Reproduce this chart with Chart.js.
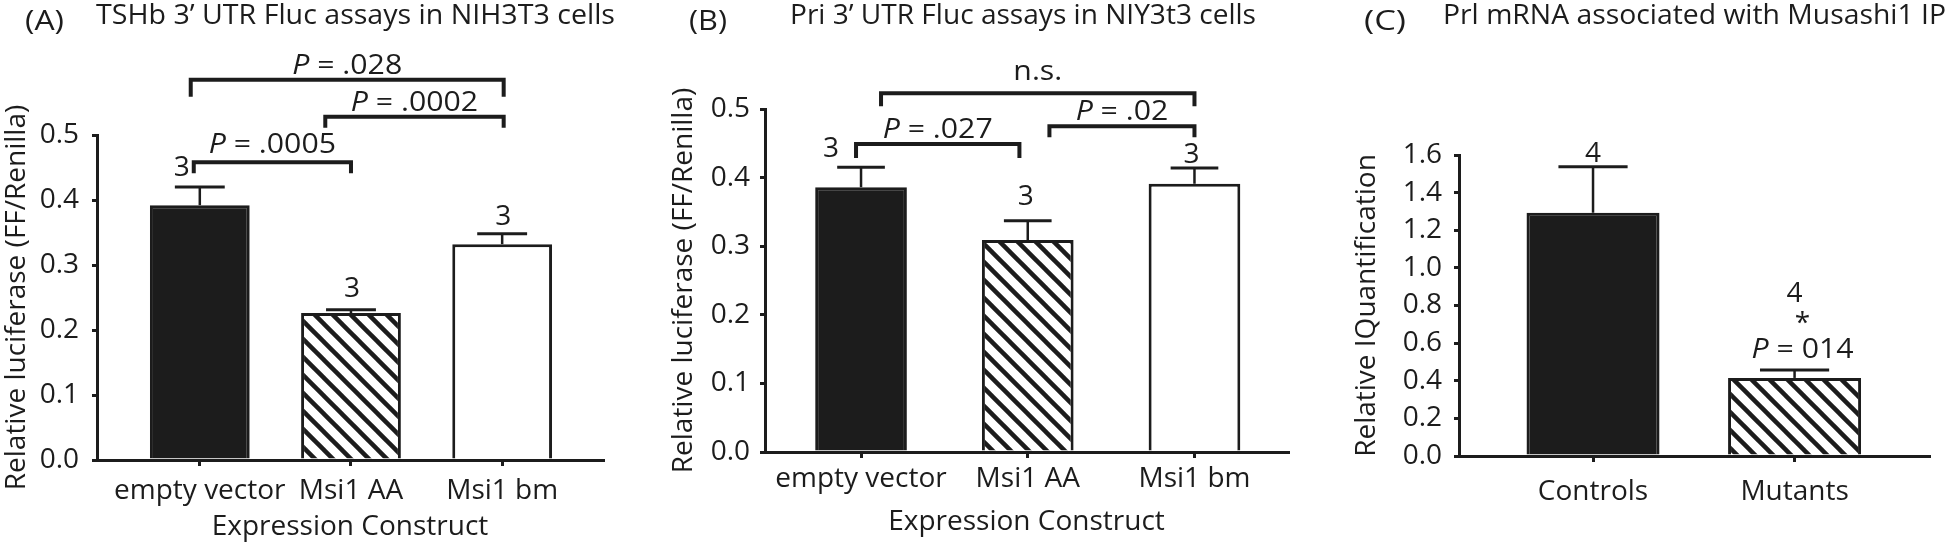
<!DOCTYPE html>
<html>
<head>
<meta charset="utf-8">
<script src="https://cdn.jsdelivr.net/npm/chart.js@4.4.1/dist/chart.umd.min.js"></script>
<style>
html,body{margin:0;padding:0;background:#fff;}
#wrap{position:relative;width:1950px;height:551px;overflow:hidden;font-family:'Open Sans',sans-serif;color:#1c1c1c;}
canvas{position:absolute;top:0;}
.t{position:absolute;font-size:28px;line-height:34px;white-space:nowrap;transform-origin:0 0;}
</style>
</head>
<body>
<div id="wrap">
  <canvas id="cA" width="650" height="551" style="left:0px"></canvas>
  <canvas id="cB" width="650" height="551" style="left:650px"></canvas>
  <canvas id="cC" width="650" height="551" style="left:1300px"></canvas>
  <div class="t" data-w="39" style="left:25px;top:2px">(A)</div>
  <div class="t" data-w="519" style="left:96px;top:-4px">TSHb 3’ UTR Fluc assays in NIH3T3 cells</div>
  <div class="t" data-w="38" style="left:689px;top:2px">(B)</div>
  <div class="t" data-w="466" style="left:790px;top:-4px">Pri 3’ UTR Fluc assays in NIY3t3 cells</div>
  <div class="t" data-w="42" style="left:1364px;top:2px">(C)</div>
  <div class="t" data-w="503" style="left:1443px;top:-4px">Prl mRNA associated with Musashi1 IP</div>
</div>
<script>
// ---------- data ----------
const catsA = ['empty vector', 'Msi1 AA', 'Msi1 bm'];
const meanA = [0.392, 0.226, 0.332];
const semA = [0.028, 0.005, 0.016];
const nA = ['3', '3', '3'];
const yTicksA = [0.0, 0.1, 0.2, 0.3, 0.4, 0.5];
const sigFromA = [-0.06, 0.83, -0.04];
const sigToA = [2.01, 2.01, 1.0];
const sigLevelA = [0.585, 0.528, 0.458];
const sigTextA = ['P = .028', 'P = .0002', 'P = .0005'];

const catsB = ['empty vector', 'Msi1 AA', 'Msi1 bm'];
const meanB = [0.386, 0.309, 0.391];
const semB = [0.029, 0.028, 0.023];
const nB = ['3', '3', '3'];
const yTicksB = [0.0, 0.1, 0.2, 0.3, 0.4, 0.5];
const sigFromB = [0.12, -0.03, 1.13];
const sigToB = [2.0, 0.95, 2.0];
const sigLevelB = [0.523, 0.449, 0.475];
const sigTextB = ['n.s.', 'P = .027', 'P = .02'];

const catsC = ['Controls', 'Mutants'];
const meanC = [1.293, 0.415];
const semC = [0.244, 0.042];
const nC = ['4', '4'];
const starC = ['', '*'];
const pC = ['', 'P = 014'];
const yTicksC = [0.0, 0.2, 0.4, 0.6, 0.8, 1.0, 1.2, 1.4, 1.6];

// ---------- style ----------
const INK = '#1c1c1c';
const FONT = "'Open Sans', sans-serif";
Chart.defaults.font.family = FONT;
Chart.defaults.color = INK;

// fit title widths
document.querySelectorAll('.t').forEach(el => {
  const w = el.getBoundingClientRect().width;
  const target = +el.dataset.w;
  if (w > 0 && target) el.style.transform = `scaleX(${target / w})`;
});

function hatch() {
  const s = 18, c = document.createElement('canvas');
  c.width = s; c.height = s;
  const g = c.getContext('2d');
  g.fillStyle = '#fff'; g.fillRect(0, 0, s, s);
  g.strokeStyle = INK; g.lineWidth = 4.5;
  for (const o of [-s, 0, s]) {
    g.beginPath(); g.moveTo(o - s, -s); g.lineTo(o + 2 * s, 2 * s); g.stroke();
  }
  return g.createPattern(c, 'repeat');
}
const HATCH = hatch();

function drawLabel(ctx, text, cx, y, size, stretch) {
  const parts = text.startsWith('P') ? [['P', 'italic'], [text.slice(1), 'normal']] : [[text, 'normal']];
  let w = 0;
  const ws = parts.map(p => { ctx.font = `${p[1]} ${size}px ${FONT}`; const m = ctx.measureText(p[0]).width; w += m; return m; });
  ctx.save();
  ctx.translate(cx, y);
  ctx.scale(stretch || 1, 1);
  let x = -w / 2;
  ctx.textAlign = 'left'; ctx.textBaseline = 'alphabetic';
  parts.forEach((p, i) => { ctx.font = `${p[1]} ${size}px ${FONT}`; ctx.fillText(p[0], x, 0); x += ws[i]; });
  ctx.restore();
}

const annot = {
  id: 'annot',
  afterDatasetsDraw(chart, args, o) {
    const ctx = chart.ctx, xs = chart.scales.x, ys = chart.scales.y;
    const meta = chart.getDatasetMeta(0);
    ctx.save();
    ctx.strokeStyle = INK; ctx.fillStyle = INK; ctx.lineCap = 'butt';
    meta.data.forEach((el, i) => {
      const top = ys.getPixelForValue(o.mean[i] + o.sem[i]);
      const half = el.width * o.capRatio;
      ctx.lineWidth = 2.5;
      ctx.beginPath(); ctx.moveTo(el.x, el.y); ctx.lineTo(el.x, top); ctx.stroke();
      ctx.lineWidth = 3;
      ctx.beginPath(); ctx.moveTo(el.x - half, top); ctx.lineTo(el.x + half, top); ctx.stroke();
      const sx = (o.nShift && o.nShift[i]) || 0;
      if (o.p && o.p[i]) {
        drawLabel(ctx, o.p[i], el.x + 8, top - 12, 28, 1.08);
        drawLabel(ctx, o.star[i], el.x + 8, top - 38, 28);
        drawLabel(ctx, o.n[i], el.x + sx, top - 68, 28);
      } else {
        drawLabel(ctx, o.n[i], el.x + sx, top - o.nGap[i] + 10, 28);
      }
    });
    if (o.sigFrom) {
      o.sigFrom.forEach((f, i) => {
        const xa = xs.getPixelForValue(f), xb = xs.getPixelForValue(o.sigTo[i]);
        const y = ys.getPixelForValue(o.sigLevel[i]);
        const leg = o.legs[i];
        ctx.lineWidth = 4; ctx.lineJoin = 'miter';
        ctx.beginPath(); ctx.moveTo(xa, y + leg); ctx.lineTo(xa, y); ctx.lineTo(xb, y); ctx.lineTo(xb, y + leg); ctx.stroke();
        drawLabel(ctx, o.sigText[i], (xa + xb) / 2, y - o.textGap[i], 28, 1.08);
      });
    }
    ctx.restore();
  }
};

function build(id, p) {
  return new Chart(document.getElementById(id), {
    type: 'bar',
    data: {
      datasets: [{
        data: p.mean.map((v, i) => ({ x: i, y: v })),
        backgroundColor: p.fills,
        borderColor: INK,
        borderWidth: 3,
        borderSkipped: 'start',
        barPercentage: p.barPct,
        categoryPercentage: 1
      }]
    },
    options: {
      responsive: false,
      animation: false,
      events: [],
      layout: { padding: { top: p.top, right: p.right, left: 0, bottom: 0 } },
      plugins: { legend: { display: false }, tooltip: { enabled: false }, annot: p.annot },
      scales: {
        x: {
          type: 'linear', min: p.xmin, max: p.xmax, offset: false,
          afterBuildTicks: s => { s.ticks = p.cats.map((_, i) => ({ value: i })); },
          afterFit: s => { s.height = p.xh; },
          ticks: { callback: v => p.cats[v], font: { size: 28 }, color: INK, padding: p.xpad, autoSkip: false, maxRotation: 0 },
          grid: { offset: false, drawOnChartArea: false, drawTicks: true, tickLength: 6, color: INK, lineWidth: 3 },
          border: { display: true, color: INK, width: 3 },
          title: { display: !!p.xtitle, text: p.xtitle || '', font: { size: 28 }, color: INK, padding: { top: 0, bottom: p.xtpad || 0 } }
        },
        y: {
          type: 'linear', min: p.yticks[0], max: p.yticks[p.yticks.length - 1],
          afterBuildTicks: s => { s.ticks = p.yticks.map(v => ({ value: v })); },
          afterFit: s => { s.width = p.yw; },
          ticks: { callback: v => v.toFixed(1), font: { size: 28 }, color: INK, padding: p.ypad },
          grid: { drawOnChartArea: false, drawTicks: true, tickLength: 5, color: INK, lineWidth: 3 },
          border: { display: true, color: INK, width: 3 },
          title: { display: true, text: p.ytitle, font: { size: 28 }, color: INK, padding: { top: p.ytpad, bottom: 0 } }
        }
      }
    },
    plugins: [annot]
  });
}

build('cA', {
  cats: catsA, mean: meanA, fills: [INK, HATCH, '#ffffff'], barPct: 0.66,
  top: 135, right: 47, xmin: -0.68, xmax: 2.667, xh: 91, xpad: 8, xtitle: 'Expression Construct', xtpad: 7,
  yticks: yTicksA, yw: 97, ypad: 13, ytitle: 'Relative luciferase (FF/Renilla)', ytpad: 0,
  annot: { mean: meanA, sem: semA, capRatio: 0.25, n: nA, nGap: [21, 23, 19], nShift: [-18, 1, 1],
    sigFrom: sigFromA, sigTo: sigToA, sigLevel: sigLevelA, sigText: sigTextA, legs: [17, 11, 11], textGap: [6, 6, 9] }
});
build('cB', {
  cats: catsB, mean: meanB, fills: [INK, HATCH, '#ffffff'], barPct: 0.55,
  top: 109, right: 12, xmin: -0.576, xmax: 2.561, xh: 99, xpad: 4, xtitle: 'Expression Construct', xtpad: 12,
  yticks: yTicksB, yw: 115, ypad: 10, ytitle: 'Relative luciferase (FF/Renilla)', ytpad: 17,
  annot: { mean: meanB, sem: semB, capRatio: 0.26, n: nB, nGap: [20, 26, 15], nShift: [-30, -2, -3],
    sigFrom: sigFromB, sigTo: sigToB, sigLevel: sigLevelB, sigText: sigTextB, legs: [13, 14, 11], textGap: [13, 6, 6] }
});
build('cC', {
  cats: catsC, mean: meanC, fills: [INK, HATCH], barPct: 0.66,
  top: 155, right: 21, xmin: -0.665, xmax: 1.667, xh: 95, xpad: 13,
  yticks: yTicksC, yw: 159, ypad: 12, ytitle: 'Relative IQuantification', ytpad: 50,
  annot: { mean: meanC, sem: semC, capRatio: 0.26, n: nC, star: starC, p: pC, nGap: [15, 15], nShift: [0, 0] }
});
</script>
</body>
</html>
